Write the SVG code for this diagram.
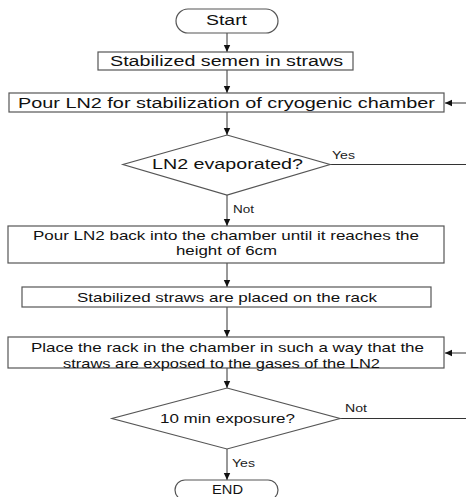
<svg xmlns="http://www.w3.org/2000/svg" width="466" height="497" viewBox="0 0 466 497">
<defs>
<marker id="ah" markerWidth="8" markerHeight="8" refX="7" refY="4" orient="auto" markerUnits="userSpaceOnUse">
<path d="M0,0.8 L7,4 L0,7.2 Z" fill="#111"/>
</marker>
<style>
.sh{fill:#fff;stroke:#555;stroke-width:1.2}
.ln{fill:none;stroke:#333;stroke-width:1}
.t{font-family:"Liberation Sans",Arial,sans-serif;fill:#111;text-anchor:middle}
.l{font-family:"Liberation Sans",Arial,sans-serif;fill:#222;font-size:10px}
</style>
</defs>
<rect width="466" height="497" fill="#fff"/>
<g id="connectors">
<line class="ln" x1="227" y1="33" x2="227" y2="52" marker-end="url(#ah)"/>
<line class="ln" x1="227" y1="70" x2="227" y2="93" marker-end="url(#ah)"/>
<line class="ln" x1="227" y1="112" x2="227" y2="135" marker-end="url(#ah)"/>
<line class="ln" x1="227" y1="195" x2="227" y2="226" marker-end="url(#ah)"/>
<line class="ln" x1="227" y1="263" x2="227" y2="287" marker-end="url(#ah)"/>
<line class="ln" x1="227" y1="307" x2="227" y2="337" marker-end="url(#ah)"/>
<line class="ln" x1="227" y1="368" x2="227" y2="388" marker-end="url(#ah)"/>
<line class="ln" x1="227" y1="449" x2="227" y2="480" marker-end="url(#ah)"/>
<line class="ln" x1="330" y1="164.5" x2="466" y2="164.5"/>
<line class="ln" x1="466" y1="103" x2="445" y2="103" marker-end="url(#ah)"/>
<line class="ln" x1="340" y1="418.5" x2="466" y2="418.5"/>
<line class="ln" x1="466" y1="353" x2="445" y2="353" marker-end="url(#ah)"/>
<text class="l" x="332" y="158.5" textLength="23" lengthAdjust="spacingAndGlyphs">Yes</text>
<text class="l" x="233" y="212.5" textLength="21" lengthAdjust="spacingAndGlyphs">Not</text>
<text class="l" x="345" y="411.5" textLength="22" lengthAdjust="spacingAndGlyphs">Not</text>
<text class="l" x="232" y="466.5" textLength="23" lengthAdjust="spacingAndGlyphs">Yes</text>
</g>
<g id="start">
<rect class="sh" x="176" y="9" width="102" height="24" rx="12" ry="12"/>
<text class="t" x="226.5" y="25" font-size="14" textLength="41" lengthAdjust="spacingAndGlyphs">Start</text>
</g>
<g id="stabilized-semen">
<rect class="sh" x="98" y="52" width="255" height="18"/>
<text class="t" x="226.5" y="66" font-size="14" textLength="233" lengthAdjust="spacingAndGlyphs">Stabilized semen in straws</text>
</g>
<g id="pour-ln2">
<rect class="sh" x="9" y="93" width="435" height="19"/>
<text class="t" x="226.5" y="107.5" font-size="14" textLength="417" lengthAdjust="spacingAndGlyphs">Pour LN2 for stabilization of cryogenic chamber</text>
</g>
<g id="ln2-evaporated">
<polygon class="sh" points="227,135 330,164.5 227,195 123,164.5"/>
<text class="t" x="227.5" y="168.5" font-size="14" textLength="151" lengthAdjust="spacingAndGlyphs">LN2 evaporated?</text>
</g>
<g id="pour-back">
<rect class="sh" x="8" y="226" width="436" height="37"/>
<text class="t" x="226" y="239.5" font-size="13" textLength="386" lengthAdjust="spacingAndGlyphs">Pour LN2 back into the chamber until it reaches the</text>
<text class="t" x="226.5" y="255" font-size="13" textLength="101" lengthAdjust="spacingAndGlyphs">height of 6cm</text>
</g>
<g id="straws-on-rack">
<rect class="sh" x="22" y="287" width="409" height="20"/>
<text class="t" x="227" y="301.5" font-size="13" textLength="300" lengthAdjust="spacingAndGlyphs">Stabilized straws are placed on the rack</text>
</g>
<g id="place-rack">
<rect class="sh" x="8" y="337" width="436" height="31"/>
<text class="t" x="227.5" y="351.5" font-size="13" textLength="393" lengthAdjust="spacingAndGlyphs">Place the rack in the chamber in such a way that the</text>
<text class="t" x="221.5" y="367.5" font-size="13" textLength="317" lengthAdjust="spacingAndGlyphs">straws are exposed to the gases of the LN2</text>
</g>
<g id="exposure">
<polygon class="sh" points="227,388 340,418.5 227,449 112,418.5"/>
<text class="t" x="227.5" y="423" font-size="13" textLength="135" lengthAdjust="spacingAndGlyphs">10 min exposure?</text>
</g>
<g id="end">
<rect class="sh" x="175" y="480" width="103" height="20" rx="10" ry="10"/>
<text class="t" x="227.5" y="494" font-size="13" textLength="31" lengthAdjust="spacingAndGlyphs">END</text>
</g>
</svg>
